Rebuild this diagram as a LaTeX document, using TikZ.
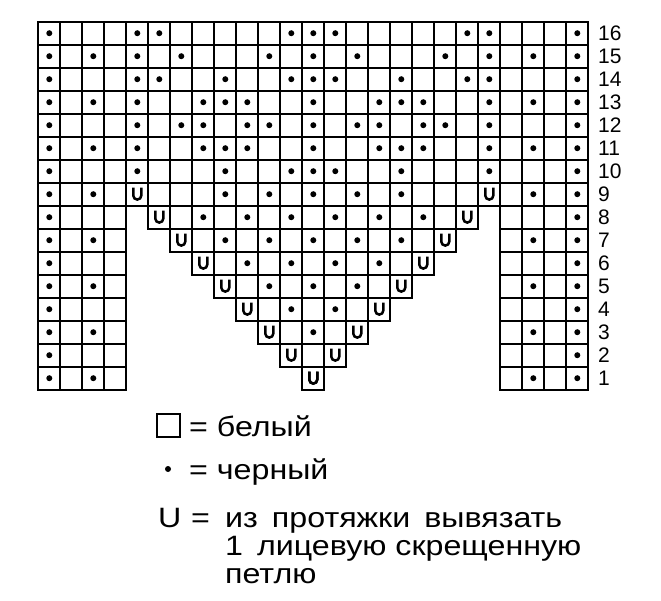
\documentclass[tikz,border=0pt]{standalone}
\usepackage{fontspec}
\setmainfont{Liberation Sans}
\newfontfamily\legfont[FakeStretch=1.15]{Liberation Sans}

\begin{document}
\begin{tikzpicture}[x=1pt,y=1pt,
    cell/.style={line width=1.8pt},
    rowno/.style={anchor=west,inner sep=0pt,font=\fontsize{21}{21}\selectfont},
    legtext/.style={anchor=base west,inner sep=0pt,font=\legfont\fontsize{28}{28}\selectfont},
    uloop/.pic={\draw[line width=2.5pt] (-4pt,6.5pt) -- (-4pt,-1.4pt)
        arc[start angle=180,end angle=360,radius=4pt] -- (4pt,6.5pt);}]
    \useasboundingbox (0,0) rectangle (661,600);

    \begin{scope}[shift={(38.3,210.3)},x=22pt,y=23pt]
    % Full rows 9-16
    \foreach \r in {9,...,16}
        \foreach \c in {1,...,25}
            \draw[cell] (\c-1,\r-1) rectangle (\c,\r);

    % Side columns and the V in rows 1-8
    \foreach \r in {1,...,8} {
        \foreach \c in {1,2,3,4,22,23,24,25}
            \draw[cell] (\c-1,\r-1) rectangle (\c,\r);
        \pgfmathtruncatemacro{\cfrom}{14-\r}
        \pgfmathtruncatemacro{\cto}{12+\r}
        \foreach \c in {\cfrom,...,\cto}
            \draw[cell] (\c-1,\r-1) rectangle (\c,\r);
    }

    % Black stitches
    \foreach \r/\cols in {16/{1,5,6,12,13,14,20,21,25},
                          15/{1,3,5,7,11,13,15,19,21,23,25},
                          14/{1,5,6,9,12,13,14,17,20,21,25},
                          13/{1,3,5,8,9,10,13,16,17,18,21,23,25},
                          12/{1,5,7,8,10,11,13,15,16,18,19,21,25},
                          11/{1,3,5,8,9,10,13,16,17,18,21,23,25},
                          10/{1,5,9,12,13,14,17,21,25},
                          9/{1,3,9,11,13,15,17,23,25},
                          8/{1,8,10,12,14,16,18,25},
                          7/{1,3,9,11,13,15,17,23,25},
                          6/{1,10,12,14,16,25},
                          5/{1,3,11,13,15,23,25},
                          4/{1,12,14,25},
                          3/{1,3,13,23,25},
                          2/{1,25},
                          1/{1,3,23,25}}
        \foreach \c in \cols
            \fill (\c-0.5,\r-0.5) circle (3pt);

    % Loops on the edges of the V
    \foreach \r in {1,...,9} {
        \pgfmathtruncatemacro{\cfrom}{14-\r}
        \pgfmathtruncatemacro{\cto}{12+\r}
        \pic at (\cfrom-0.5,\r-0.5) {uloop};
        \pic at (\cto-0.5,\r-0.5) {uloop};
    }

    % Row numbers
    \foreach \r in {1,...,16}
        \node[rowno] (row\r) at (25.44,\r-0.5) {\r};
    \end{scope}

    % Legend
    \node[draw,line width=1.8pt,minimum size=23pt,inner sep=0pt] (whitebox) at (168.5,174.5) {};
    \node[legtext] (white) at (189,163) {= белый};
    \node[circle,fill,inner sep=0pt,minimum size=6pt] (blackdot) at (168,131) {};
    \node[legtext] (black) at (189,121) {= черный};
    \node[legtext] (loopsym) at (158,73) {U};
    \node[legtext] (loopeq) at (191,73) {=};
    \node[legtext] (loop) at (225,73) {из\enspace протяжки\enspace вывязать};
    \node[legtext] (loop2) at (225,45) {1\enspace лицевую скрещенную};
    \node[legtext] (loop3) at (225,17) {петлю};
\end{tikzpicture}
\end{document}
